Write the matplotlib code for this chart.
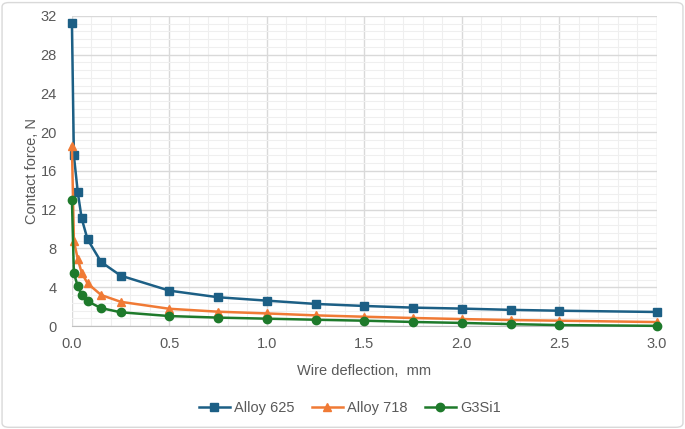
import matplotlib
matplotlib.use("Agg")
import matplotlib.pyplot as plt
from matplotlib.ticker import MultipleLocator, FormatStrFormatter
from matplotlib.patches import FancyBboxPatch

plt.rcParams['font.family'] = ['Liberation Sans', 'DejaVu Sans']

# datos
deflexion = [0.0, 0.01, 0.03, 0.05, 0.08, 0.15, 0.25, 0.5, 0.75, 1.0,
             1.25, 1.5, 1.75, 2.0, 2.25, 2.5, 3.0]
alloy625 = [31.3, 17.6, 13.8, 11.1, 8.95, 6.6, 5.2, 3.65, 2.97, 2.62,
            2.28, 2.07, 1.9, 1.8, 1.67, 1.58, 1.45]
alloy718 = [18.6, 8.8, 6.9, 5.5, 4.4, 3.2, 2.5, 1.78, 1.48, 1.3,
            1.1, 0.96, 0.83, 0.72, 0.62, 0.55, 0.41]
g3si1 = [13.0, 5.45, 4.1, 3.25, 2.55, 1.85, 1.42, 1.03, 0.87, 0.76,
         0.65, 0.55, 0.42, 0.32, 0.2, 0.1, 0.02]

series = [
    ("Alloy 625", alloy625, "#1C5F85", "s"),
    ("Alloy 718", alloy718, "#F07A35", "^"),
    ("G3Si1", g3si1, "#1E7A2B", "o"),
]

fig = plt.figure(figsize=(6.85, 4.29), dpi=100)
ax = fig.add_axes([0.105, 0.24, 0.854, 0.723])

# marco exterior gris claro
borde = FancyBboxPatch((0.003, 0.004), 0.994, 0.99, boxstyle="round,pad=0,rounding_size=0.01",
                       transform=fig.transFigure, facecolor="none", edgecolor="#D9D9D9", lw=1)
fig.patches.append(borde)

for nombre, valores, color, marca in series:
    ax.plot(deflexion, valores, color=color, marker=marca, markersize=6,
            lw=1.8, label=nombre, clip_on=False, zorder=3)

ax.set_xlim(0, 3.0)
ax.set_ylim(0, 32)
ax.xaxis.set_major_locator(MultipleLocator(0.5))
ax.xaxis.set_minor_locator(MultipleLocator(0.1))
ax.yaxis.set_major_locator(MultipleLocator(4))
ax.yaxis.set_minor_locator(MultipleLocator(0.8))
ax.xaxis.set_major_formatter(FormatStrFormatter("%.1f"))

ax.grid(which="major", color="#D9D9D9", lw=1)
ax.grid(which="minor", color="#EFEFEF", lw=0.8)
ax.set_axisbelow(True)

for lado in ["top", "right", "left"]:
    ax.spines[lado].set_visible(False)
ax.spines["bottom"].set_color("#BFBFBF")

ax.tick_params(which="both", length=0, colors="#595959", labelsize=10.5)
ax.tick_params(axis="y", pad=11)
ax.tick_params(axis="x", pad=8)

ax.set_xlabel("Wire deflection,  mm", fontsize=10.5, color="#595959", labelpad=9)
ax.set_ylabel("Contact force, N", fontsize=10.5, color="#595959", labelpad=1)

ax.legend(loc="upper center", bbox_to_anchor=(0.475, -0.2), ncol=3, frameon=False,
          fontsize=10.5, labelcolor="#595959", handlelength=2.1, columnspacing=1.2,
          handletextpad=0.3)

plt.savefig("out.png", dpi=100)
